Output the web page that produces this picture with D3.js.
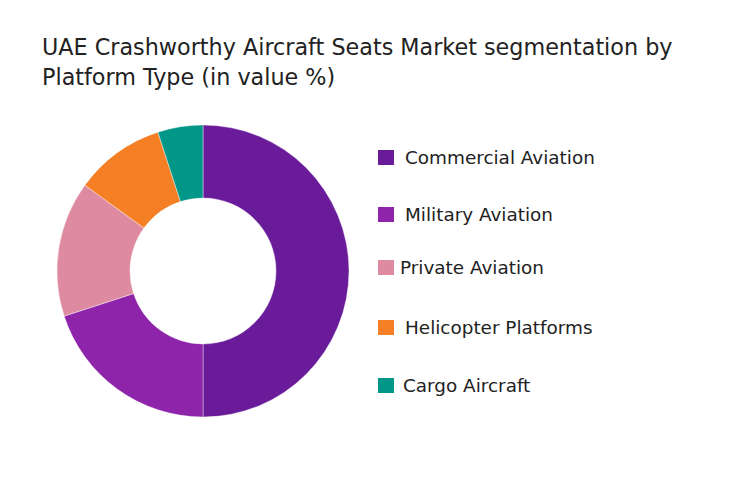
<!DOCTYPE html>
<html>
<head>
<meta charset="utf-8">
<script src="https://cdn.jsdelivr.net/npm/d3@7/dist/d3.min.js"></script>
<style>
  html, body { margin: 0; padding: 0; background: #fff; }
  svg { display: block; }
</style>
</head>
<body>
<svg id="chart" width="742" height="493"></svg>
<script>
const categories = ["Commercial Aviation", "Military Aviation", "Private Aviation", "Helicopter Platforms", "Cargo Aircraft"];
const values = [50, 20, 15, 10, 5];
const colors = ["#6a1b9a", "#8e24aa", "#de8aa0", "#f47f24", "#009688"];
const titleLines = ["UAE Crashworthy Aircraft Seats Market segmentation by", "Platform Type (in value %)"];

const svg = d3.select("#chart");
const font = "'DejaVu Sans', sans-serif";

const titles = svg.selectAll("text.title").data(titleLines).join("text")
  .attr("class", "title")
  .attr("x", 42)
  .attr("y", (d, i) => 55 + i * 30)
  .attr("font-family", font)
  .attr("font-size", 21)
  .attr("fill", "#222")
  .text(d => d);
// fit first line to reference width
const t0 = titles.nodes()[0];
const w0 = t0.getComputedTextLength();
const titleSize = 21 * 631 / w0;
titles.attr("font-size", titleSize);

const data = categories.map((c, i) => ({ name: c, value: values[i], color: colors[i] }));
const pie = d3.pie().value(d => d.value).sort(null);
const arc = d3.arc().innerRadius(73).outerRadius(146);

const g = svg.append("g").attr("transform", "translate(203,271)");
g.selectAll("path").data(pie(data)).join("path")
  .attr("d", arc)
  .attr("fill", d => d.data.color)
  .attr("stroke", "#fff")
  .attr("stroke-opacity", 0.4)
  .attr("stroke-width", 1);

const legendY = [158, 215, 268, 328, 386];
const textX = [405, 405, 400, 405, 403];
const leg = svg.append("g");
const items = leg.selectAll("g").data(data).join("g")
  .attr("transform", (d, i) => `translate(0,${legendY[i]})`);
items.append("rect")
  .attr("x", 378).attr("y", -8)
  .attr("width", 16).attr("height", 15)
  .attr("fill", d => d.color);
const lt = items.append("text")
  .attr("x", (d, i) => textX[i])
  .attr("y", 0)
  .attr("dy", "0.35em")
  .attr("font-family", font)
  .attr("font-size", 17)
  .attr("fill", "#222")
  .text(d => d.name);
const lw = lt.nodes()[0].getComputedTextLength();
lt.attr("font-size", 17 * 190 / lw);
</script>
</body>
</html>
